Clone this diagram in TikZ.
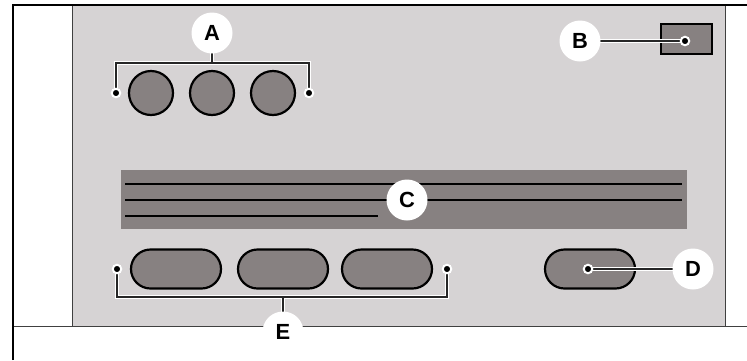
\documentclass[tikz,border=0pt]{standalone}
\usepackage{fontspec}
\setmainfont{Liberation Sans}
\usetikzlibrary{positioning, calc}
\definecolor{panel}{RGB}{214,211,212}
\definecolor{part}{RGB}{135,129,129}
\definecolor{rule}{gray}{0.25}
\pgfdeclarelayer{background}
\pgfdeclarelayer{parts}
\pgfdeclarelayer{leads}
\pgfsetlayers{background,parts,leads,main}

\begin{document}
\begin{tikzpicture}[
  x=1bp, y=-1bp,
  knob/.style={circle, draw=black, fill=part, line width=2.2bp,
               minimum size=44bp, inner sep=0pt},
  pill/.style={rectangle, rounded corners=19.5bp, draw=black, fill=part,
               line width=2.2bp, minimum width=90bp, minimum height=39bp,
               inner sep=0pt},
  tag/.style={circle, fill=white, minimum size=41bp, inner sep=0pt,
              font=\fontsize{22}{26}\selectfont\bfseries},
  pin/.style={circle, fill=black, draw=white, line width=2bp,
              minimum size=8.5bp, inner sep=0pt},
  lead/.style={draw=black!85, line width=1.3bp,
               preaction={draw=white, line width=4.8bp}},
  slot/.style={draw=black, line width=2.7bp},
]
\useasboundingbox (0,0) rectangle (747,360);

% housing
\begin{pgfonlayer}{background}
  \fill[panel] (72,5) rectangle (725,326);
  \draw[rule, line width=1bp] (72,5) -- (72,326);
  \draw[rule, line width=1bp] (725,5) -- (725,326);
  \draw[rule, line width=1bp] (13,326) -- (747,326);
  \draw[black, line width=2.5bp] (13,360) |- (747,5);
\end{pgfonlayer}

\begin{pgfonlayer}{parts}
  % knobs
  \node[knob] (k1) at (151,93) {};
  \node[knob] (k2) at (212,93) {};
  \node[knob] (k3) at (273,93) {};
  % switch
  \node[draw=black, fill=part, line width=2.2bp, minimum width=51bp,
        minimum height=30bp, inner sep=0pt] (sw) at (686.5,39) {};
  % display
  \node[fill=part, minimum width=566bp, minimum height=59bp, inner sep=0pt]
    (bar) at (404,199.5) {};
  \draw[slot] (125,184) -- (682,184);
  \draw[slot] (125,200) -- (682,200);
  \draw[slot] (125,216) -- (378,216);
  % buttons
  \node[pill] (e1) at (176,269) {};
  \node[pill] (e2) at (283,269) {};
  \node[pill] (e3) at (387,269) {};
  \node[pill] (d1) at (590,269) {};
\end{pgfonlayer}

\node[pin] (a1) at (116,93) {};
\node[pin] (a2) at (309,93) {};
\node[tag] (A) at (212,33) {A};
\coordinate (am) at (212,63);

\node[pin] (b1) at (685,41) {};
\node[tag] (B) at (580,41) {B};

\node[tag] (C) at (407,200) {C};

\node[pin] (p1) at (117,269) {};
\node[pin] (p2) at (447,269) {};
\node[tag] (E) at (283,332) {E};
\coordinate (em) at (283,297);

\node[pin] (q1) at (588,269) {};
\node[tag] (D) at (693,269) {D};

\begin{pgfonlayer}{leads}
  \draw[lead] (A.center) -- (am) (a1.center) |- (am) -| (a2.center);
  \draw[lead] (B.center) -- (b1.center);
  \draw[lead] (E.center) -- (em) (p1.center) |- (em) -| (p2.center);
  \draw[lead] (D.center) -- (q1.center);
\end{pgfonlayer}
\end{tikzpicture}
\end{document}
